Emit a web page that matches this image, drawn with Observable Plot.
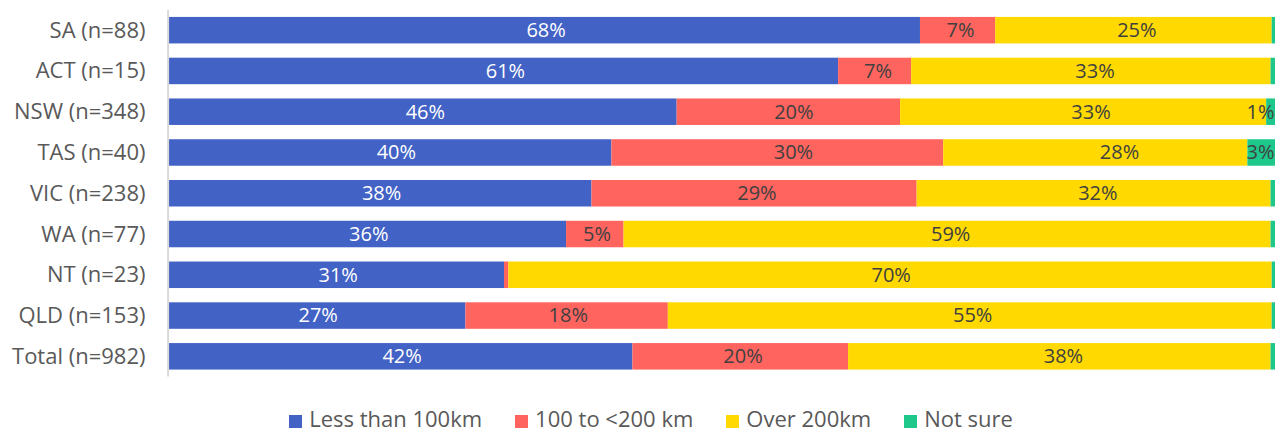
<!DOCTYPE html>
<html>
<head>
<meta charset="utf-8">
<script src="https://cdn.jsdelivr.net/npm/d3@7"></script>
<script src="https://cdn.jsdelivr.net/npm/@observablehq/plot@0.6"></script>
<style>
  body { margin: 0; background: #fff; font-family: "Open Sans", sans-serif; }
  #chart { position: relative; width: 1282px; height: 436px; }
  .legend {
    position: absolute; left: 0; top: 406px; width: 1282px; box-sizing: border-box;
    padding-left: 20px; display: flex; justify-content: center; gap: 33px;
    font-size: 22px; line-height: 24px; color: #595959; white-space: nowrap;
  }
  .legend .item { display: flex; align-items: center; }
  .legend .sw { display: inline-block; width: 13px; height: 13px; margin-right: 7px; position: relative; top: 3px; }
</style>
</head>
<body>
<div id="chart"></div>
<script>
// Distance travelled, share of respondents by state/territory (percent)
const regions = ["SA (n=88)", "ACT (n=15)", "NSW (n=348)", "TAS (n=40)", "VIC (n=238)", "WA (n=77)", "NT (n=23)", "QLD (n=153)", "Total (n=982)"];
const categories = ["Less than 100km", "100 to <200 km", "Over 200km", "Not sure"];
const colors = ["#4262c5", "#ff645f", "#ffd900", "#1ec78a"];

const lessThan100 = [67.9, 60.5, 45.9, 40.0, 38.2, 35.9, 30.5, 26.8, 41.9];
const from100to200 = [6.8, 6.6, 20.2, 30.0, 29.4, 5.2, 0.4, 18.3, 19.5];
const over200 = [25.0, 32.5, 33.1, 27.5, 32.0, 58.5, 69.5, 54.6, 38.2];
const notSure = [0.3, 0.4, 0.8, 2.5, 0.4, 0.4, 0.3, 0.3, 0.4];

const series = [lessThan100, from100to200, over200, notSure];
const data = [];
regions.forEach((region, i) => {
  categories.forEach((category, j) => {
    data.push({region, category, value: series[j][i]});
  });
});

const stackOpts = {x: "value", y: "region", z: "category", order: categories, offset: "normalize"};
const shown = d => Math.round(d.value) >= 1;
const label = d => `${Math.round(d.value)}%`;

const chart = Plot.plot({
  width: 1282,
  height: 385,
  marginLeft: 169,
  marginRight: 7,
  marginTop: 10,
  marginBottom: 8.5,
  style: {fontFamily: "'Open Sans', sans-serif", color: "#595959", background: "transparent"},
  x: {domain: [0, 1], axis: null},
  y: {domain: regions, paddingInner: 0.35, paddingOuter: 0.17, round: false, label: null},
  color: {domain: categories, range: colors},
  marks: [
    Plot.barX(data, Plot.stackX({...stackOpts, fill: "category"})),
    // segment labels centred in each segment
    Plot.text(data, Plot.stackX({
      ...stackOpts,
      filter: d => shown(d) && d.category !== "Not sure",
      text: label,
      fill: d => d.category === categories[0] ? "#ffffff" : "#404040",
      fontSize: 20
    })),
    // the thin "Not sure" segments get their label tucked against the bar end
    Plot.text(data, Plot.stackX2({
      ...stackOpts,
      filter: d => shown(d) && d.category === "Not sure",
      text: label,
      fill: "#404040",
      textAnchor: "end",
      dx: -1,
      fontSize: 20
    })),
    Plot.ruleX([0], {stroke: "#d9d9d9", strokeWidth: 2, dx: -1.4}),
    Plot.axisY({tickSize: 0, tickPadding: 24, fontSize: 22, label: null})
  ]
});

const root = document.getElementById("chart");
root.appendChild(chart);

const legend = document.createElement("div");
legend.className = "legend";
categories.forEach((c, i) => {
  const item = document.createElement("span");
  item.className = "item";
  const sw = document.createElement("span");
  sw.className = "sw";
  sw.style.background = colors[i];
  item.appendChild(sw);
  item.appendChild(document.createTextNode(c));
  legend.appendChild(item);
});
root.appendChild(legend);
</script>
</body>
</html>
